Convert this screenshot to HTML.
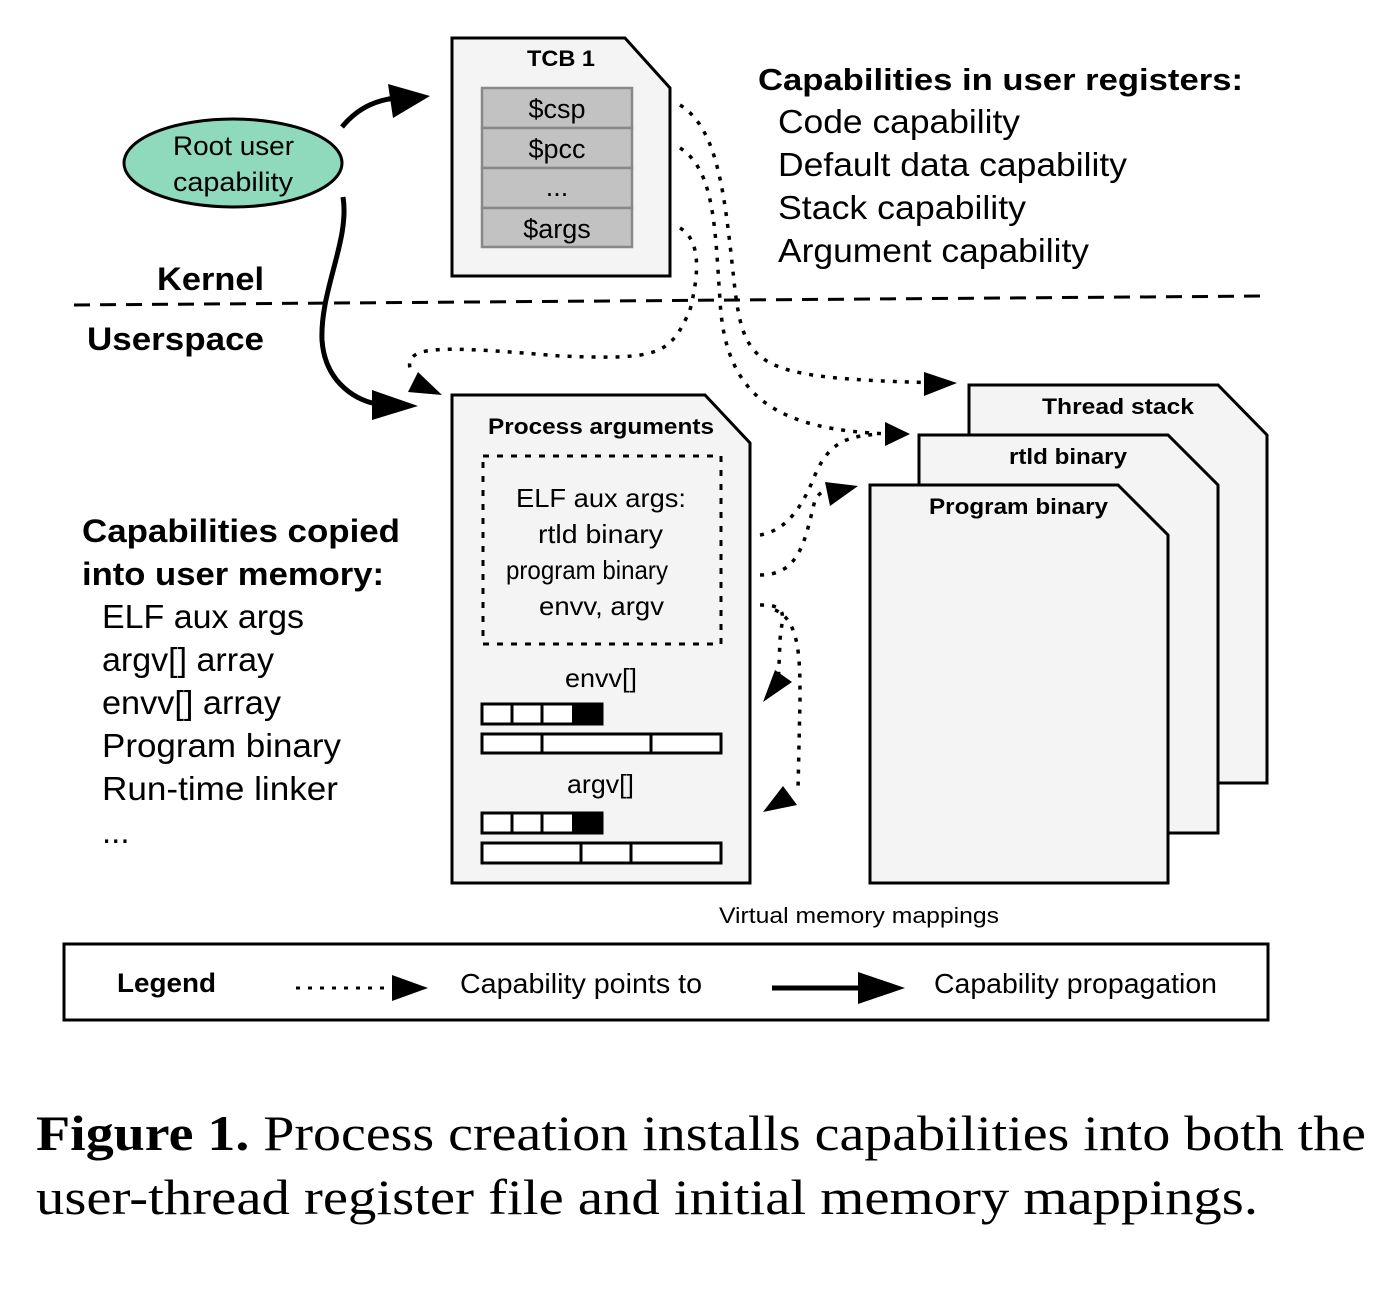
<!DOCTYPE html>
<html><head><style>body{margin:0;background:#fff}svg{display:block}</style></head><body>
<svg width="1396" height="1300" viewBox="0 0 1396 1300" xmlns="http://www.w3.org/2000/svg" font-family="Liberation Sans, sans-serif">
<!-- TCB -->
<path d="M452,38 L625,38 L670,88 L670,276 L452,276Z" fill="#f4f4f4" stroke="#000" stroke-width="3"/>
<text x="527" y="66" font-size="22" font-weight="bold" textLength="68" lengthAdjust="spacingAndGlyphs">TCB 1</text>
<g fill="#c2c2c2" stroke="#888" stroke-width="2.5">
<rect x="482" y="88" width="150" height="40"/><rect x="482" y="128" width="150" height="40"/>
<rect x="482" y="168" width="150" height="40"/><rect x="482" y="208" width="150" height="39"/></g>
<g font-size="27" text-anchor="middle"><text x="557" y="118">$csp</text><text x="557" y="158">$pcc</text><text x="557" y="196">...</text><text x="557" y="238">$args</text></g>
<!-- Right text -->
<text x="758" y="90" font-size="31" font-weight="bold" textLength="485" lengthAdjust="spacingAndGlyphs">Capabilities in user registers:</text>
<g font-size="33">
<text x="778" y="133" textLength="242" lengthAdjust="spacingAndGlyphs">Code capability</text>
<text x="778" y="176" textLength="349" lengthAdjust="spacingAndGlyphs">Default data capability</text>
<text x="778" y="219" textLength="248" lengthAdjust="spacingAndGlyphs">Stack capability</text>
<text x="778" y="262" textLength="311" lengthAdjust="spacingAndGlyphs">Argument capability</text></g>
<!-- ellipse -->
<ellipse cx="233" cy="163" rx="109" ry="44" fill="#8fd9bd" stroke="#000" stroke-width="3"/>
<text x="173" y="155" font-size="27" textLength="121" lengthAdjust="spacingAndGlyphs">Root user</text>
<text x="173" y="191" font-size="27" textLength="120" lengthAdjust="spacingAndGlyphs">capability</text>
<!-- kernel line -->
<line x1="74" y1="305" x2="1268" y2="296" stroke="#000" stroke-width="3" stroke-dasharray="16,10"/>
<text x="157" y="290" font-size="32" font-weight="bold" textLength="107" lengthAdjust="spacingAndGlyphs">Kernel</text>
<text x="87" y="350" font-size="32" font-weight="bold" textLength="177" lengthAdjust="spacingAndGlyphs">Userspace</text>
<!-- solid arrows -->
<path d="M342,127 C360,105 380,100 395,98" fill="none" stroke="#000" stroke-width="5"/>
<path d="M388,84 L430,96 L393,118Z" fill="#000"/>
<path d="M343,197 C350,240 320,290 322,340 C325,385 360,402 378,404" fill="none" stroke="#000" stroke-width="5"/>
<path d="M372,390 L418,406 L372,420Z" fill="#000"/>
<!-- Process arguments -->
<path d="M452,395 L705,395 L750,443 L750,883 L452,883Z" fill="#f4f4f4" stroke="#000" stroke-width="3"/>
<text x="488" y="434" font-size="22" font-weight="bold" textLength="226" lengthAdjust="spacingAndGlyphs">Process arguments</text>
<rect x="483" y="456" width="238" height="188" fill="none" stroke="#000" stroke-width="3" stroke-dasharray="6,8"/>
<g font-size="26">
<text x="516" y="507" textLength="170" lengthAdjust="spacingAndGlyphs">ELF aux args:</text>
<text x="538" y="543" textLength="125" lengthAdjust="spacingAndGlyphs">rtld binary</text>
<text x="506" y="579" textLength="162" lengthAdjust="spacingAndGlyphs">program binary</text>
<text x="539" y="615" textLength="125" lengthAdjust="spacingAndGlyphs">envv, argv</text>
<text x="565" y="687" textLength="72" lengthAdjust="spacingAndGlyphs">envv[]</text>
<text x="567" y="793" textLength="67" lengthAdjust="spacingAndGlyphs">argv[]</text></g>
<g fill="#fff" stroke="#000" stroke-width="3">
<rect x="482" y="704" width="120" height="20"/><line x1="512" y1="704" x2="512" y2="724"/><line x1="542" y1="704" x2="542" y2="724"/>
<rect x="482" y="734" width="239" height="19"/><line x1="542" y1="734" x2="542" y2="753"/><line x1="651" y1="734" x2="651" y2="753"/>
<rect x="482" y="813" width="120" height="20"/><line x1="512" y1="813" x2="512" y2="833"/><line x1="542" y1="813" x2="542" y2="833"/>
<rect x="482" y="843" width="239" height="20"/><line x1="581" y1="843" x2="581" y2="863"/><line x1="631" y1="843" x2="631" y2="863"/></g>
<rect x="572" y="704" width="30" height="20" fill="#000"/><rect x="572" y="813" width="30" height="20" fill="#000"/>
<!-- Left text -->
<text x="82" y="542" font-size="32" font-weight="bold" textLength="318" lengthAdjust="spacingAndGlyphs">Capabilities copied</text>
<text x="82" y="585" font-size="32" font-weight="bold" textLength="302" lengthAdjust="spacingAndGlyphs">into user memory:</text>
<g font-size="33">
<text x="102" y="628" textLength="202" lengthAdjust="spacingAndGlyphs">ELF aux args</text>
<text x="102" y="671" textLength="172" lengthAdjust="spacingAndGlyphs">argv[] array</text>
<text x="102" y="714" textLength="179" lengthAdjust="spacingAndGlyphs">envv[] array</text>
<text x="102" y="757" textLength="239" lengthAdjust="spacingAndGlyphs">Program binary</text>
<text x="102" y="800" textLength="236" lengthAdjust="spacingAndGlyphs">Run-time linker</text>
<text x="102" y="843">...</text></g>
<!-- pages -->
<g fill="#f4f4f4" stroke="#000" stroke-width="3">
<path d="M969,385 L1218,385 L1267,435 L1267,783 L969,783Z"/>
<path d="M919,435 L1168,435 L1218,485 L1218,833 L919,833Z"/>
<path d="M870,485 L1118,485 L1168,535 L1168,883 L870,883Z"/></g>
<g font-size="22" font-weight="bold">
<text x="1042" y="414" textLength="152" lengthAdjust="spacingAndGlyphs">Thread stack</text>
<text x="1009" y="464" textLength="118" lengthAdjust="spacingAndGlyphs">rtld binary</text>
<text x="929" y="514" textLength="179" lengthAdjust="spacingAndGlyphs">Program binary</text></g>
<text x="719" y="923" font-size="22" textLength="280" lengthAdjust="spacingAndGlyphs">Virtual memory mappings</text>
<!-- dotted connectors -->
<g fill="none" stroke="#000" stroke-width="3.5" stroke-dasharray="4,8">
<path d="M680,105 C720,130 725,200 735,290 C745,370 760,378 940,383"/>
<path d="M680,148 C715,170 715,230 720,300 C725,400 780,430 890,434"/>
<path d="M680,228 C700,240 700,270 690,310 C670,355 660,360 560,356 C430,345 400,345 412,375"/>
<path d="M760,535 C790,530 805,500 815,475 C830,440 850,436 880,434"/>
<path d="M760,575 C800,575 805,540 815,500 C820,490 830,488 845,487"/>
<path d="M760,605 C790,605 782,615 780,640 L778,690"/>
<path d="M775,610 C800,620 800,660 800,700 L798,790"/>
</g>
<path d="M418,372 L442,395 L408,392Z" fill="#000"/>
<path d="M885,422 L910,434 L885,446Z" fill="#000"/>
<path d="M924,372 L957,383 L924,396Z" fill="#000"/>
<path d="M825,482 L858,486 L830,506Z" fill="#000"/>
<path d="M775,670 L792,682 L763,702Z" fill="#000"/>
<path d="M783,786 L797,805 L763,812Z" fill="#000"/>
<!-- Legend -->
<rect x="64" y="944" width="1204" height="76" fill="#fff" stroke="#000" stroke-width="3"/>
<text x="117" y="992" font-size="27" font-weight="bold" textLength="99" lengthAdjust="spacingAndGlyphs">Legend</text>
<line x1="296" y1="988" x2="395" y2="988" stroke="#000" stroke-width="3" stroke-dasharray="4,8"/>
<path d="M392,975 L428,988 L392,1001Z" fill="#000"/>
<text x="460" y="993" font-size="28" textLength="242" lengthAdjust="spacingAndGlyphs">Capability points to</text>
<line x1="772" y1="988" x2="865" y2="988" stroke="#000" stroke-width="5"/>
<path d="M858,972 L905,988 L858,1004Z" fill="#000"/>
<text x="934" y="993" font-size="28" textLength="283" lengthAdjust="spacingAndGlyphs">Capability propagation</text>
<!-- caption -->
<text x="36" y="1150" font-family="Liberation Serif, serif" font-size="50" textLength="1330" lengthAdjust="spacingAndGlyphs"><tspan font-weight="bold">Figure 1.</tspan> Process creation installs capabilities into both the</text>
<text x="36" y="1214" font-family="Liberation Serif, serif" font-size="50" textLength="1222" lengthAdjust="spacingAndGlyphs">user-thread register file and initial memory mappings.</text>
</svg>
</body></html>
